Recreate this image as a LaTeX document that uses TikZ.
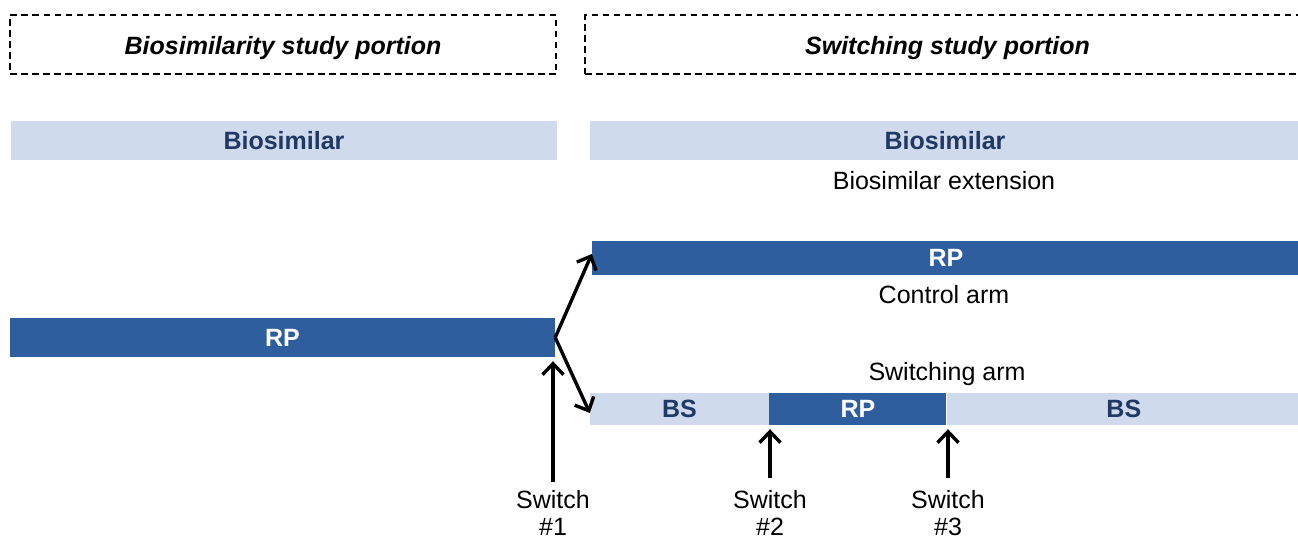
\documentclass[tikz,border=0pt]{standalone}
\usepackage{fontspec}
\setmainfont{Liberation Sans}
\usepackage{xcolor}
\usepackage{tikz}
\usetikzlibrary{arrows.meta,positioning}

\definecolor{rpblue}{HTML}{2E5E9E}
\definecolor{bslight}{HTML}{CFDAEC}
\definecolor{navy}{HTML}{1F3864}

\begin{document}
\begin{tikzpicture}
      [ x=1pt, y=-1pt,
        portion/.style={draw, line width=2.8pt, dash pattern=on 6.5pt off 4.5pt,
                        minimum height=59pt, inner sep=0pt, text height=19pt, text depth=0pt,
                        font=\fontsize{25}{28}\selectfont\bfseries\itshape},
        lightbar/.style={fill=bslight, text=navy, inner sep=0pt,
                         font=\fontsize{25}{28}\selectfont\bfseries},
        darkbar/.style={fill=rpblue, text=white, inner sep=0pt,
                        font=\fontsize{25}{28}\selectfont\bfseries},
        plain/.style={inner sep=0pt, font=\fontsize{25}{28}\selectfont},
        swlabel/.style={align=center, inner xsep=0pt, inner ysep=0pt,
                        font=\fontsize{25}{27}\selectfont},
        arr/.style={-{Straight Barb[length=11pt,width=21pt,line width=3.4pt]}, line width=3.4pt}
      ]
      \useasboundingbox (0,0) rectangle (1298,539);

      % study portions
      \node[portion, minimum width=546pt] (bioportion) at (283,44.5) {Biosimilarity study portion};
      \node[portion, minimum width=725pt] (swportion)  at (947.5,44.5) {Switching study portion};

      % biosimilar bars
      \node[lightbar, minimum width=546pt, minimum height=39pt] (bioL) at (284,140.5) {Biosimilar};
      \node[lightbar, minimum width=710pt, minimum height=39pt] (bioR) at (945,140.5) {Biosimilar};
      \node[plain] (ext) at (944,181) {Biosimilar extension};

      % reference product
      \node[darkbar, minimum width=545pt, minimum height=39pt] (rpL) at (282.5,337.5) {RP};
      \node[darkbar, minimum width=708pt, minimum height=34pt] (rpC) at (946,258) {RP};
      \node[plain] (ctrl) at (944,295) {Control arm};

      % switching arm
      \node[plain] (swarm) at (947,374) {Switching arm};
      \node[lightbar, minimum width=179pt, minimum height=32pt] (bsA) at (679.5,409) {BS};
      \node[darkbar, minimum width=177pt, minimum height=32pt, right=0pt of bsA] (rpS) {RP};
      \node[lightbar, minimum width=354pt, minimum height=32pt, right=0pt of rpS] (bsB) {BS};

      % switches
      \node[swlabel] (sw1) at (553,513) {Switch\\\#1};
      \node[swlabel] (sw2) at (770,513) {Switch\\\#2};
      \node[swlabel] (sw3) at (948,513) {Switch\\\#3};

      \draw[arr] (rpL.east) -- ([yshift=4pt]rpC.west);
      \draw[arr] (rpL.east) -- ([yshift=-4pt]bsA.west);
      \draw[arr, shorten <=8pt, shorten >=4pt] (sw1.north) -- (sw1.north |- rpL.south);
      \draw[arr, shorten <=12pt, shorten >=4pt] (sw2.north) -- (sw2.north |- rpS.south);
      \draw[arr, shorten <=12pt, shorten >=4pt] (sw3.north) -- (sw3.north |- rpS.south);
    \end{tikzpicture}
\end{document}
